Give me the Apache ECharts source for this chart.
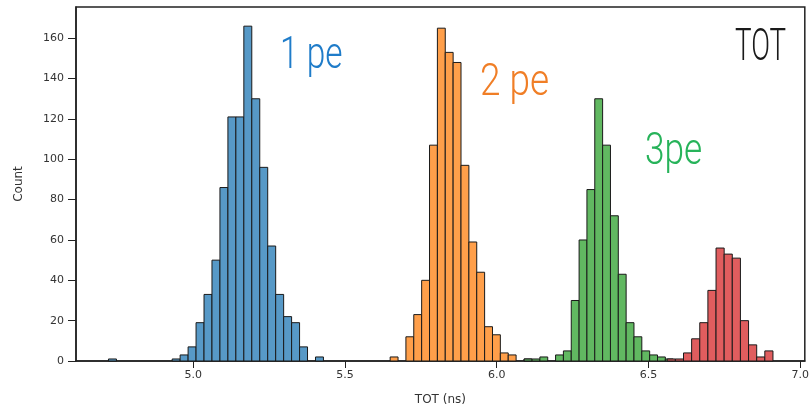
<!DOCTYPE html>
<html>
<head>
<meta charset="utf-8">
<script src="https://cdn.jsdelivr.net/npm/echarts@6/dist/echarts.min.js"></script>
<style>
  html, body { margin: 0; padding: 0; background: #fff; }
  #main { width: 812px; height: 411px; }
</style>
</head>
<body>
<div id="main"></div>
<script>
// histogram data, one group per photo-electron peak
// each group: first bin left edge (ns), bin width (ns), counts per bin
var blueStart = 4.721, blueWidth = 0.02623;
var blueCounts = [1, 0, 0, 0, 0, 0, 0, 0, 1, 3, 7, 19, 33, 50, 86, 121, 121, 166, 130, 96, 57, 33, 22, 19, 7, 0, 2];

var orangeStart = 5.649, orangeWidth = 0.02593;
var orangeCounts = [2, 0, 12, 23, 40, 107, 165, 153, 148, 97, 59, 44, 17, 13, 4, 3, 0, 1];

var greenStart = 6.0906, greenWidth = 0.02583;
var greenCounts = [1, 1, 2, 0, 3, 5, 30, 60, 85, 130, 107, 72, 43, 19, 12, 5, 3, 2, 1];

var redStart = 6.5618, redWidth = 0.02679;
var redCounts = [1, 1, 4, 11, 19, 35, 56, 53, 51, 20, 8, 2, 5];

var xTicks = [5.0, 5.5, 6.0, 6.5, 7.0];
var yTicks = [0, 20, 40, 60, 80, 100, 120, 140, 160];

var chart = echarts.init(document.getElementById('main'));

function toBins(start, width, counts) {
    var rows = [];
    counts.forEach(function(c, i) {
        if (c > 0) {
            rows.push([start + i * width, start + (i + 1) * width, c]);
        }
    });
    return rows;
}

function histSeries(name, rows, color) {
    return {
        name : name,
        type : 'custom',
        data : rows,
        encode : { x : [0, 1], y : 2 },
        renderItem : function(params, api) {
            var p0 = api.coord([api.value(0), 0]);
            var p1 = api.coord([api.value(1), api.value(2)]);
            return {
                type : 'rect',
                shape : {
                    x : p0[0],
                    y : p1[1],
                    width : p1[0] - p0[0],
                    height : p0[1] - p1[1]
                },
                style : {
                    fill : color,
                    stroke : '#1a1a1a',
                    lineWidth : 1
                }
            };
        }
    };
}

var axisFont = {
    fontFamily : 'DejaVu Sans',
    fontSize : 11,
    color : '#333'
};

var option = {
    animation : false,
    backgroundColor : '#fff',
    grid : {
        left : 76,
        top : 7,
        width : 729,
        height : 356,
        show : true,
        borderColor : '#222',
        borderWidth : 1.5
    },
    xAxis : {
        type : 'value',
        min : 4.614,
        max : 7.015,
        name : 'TOT (ns)',
        nameLocation : 'middle',
        nameGap : 33,
        nameTextStyle : {
            fontFamily : 'DejaVu Sans',
            fontSize : 12,
            color : '#333'
        },
        splitLine : { show : false },
        axisLine : { show : true, lineStyle : { color : '#222', width : 1.5 } },
        axisTick : {
            show : true,
            length : 7,
            customValues : xTicks,
            lineStyle : { color : '#222', width : 1 }
        },
        axisLabel : {
            customValues : xTicks,
            margin : 9,
            fontFamily : axisFont.fontFamily,
            fontSize : axisFont.fontSize,
            color : axisFont.color,
            formatter : function(v) { return v.toFixed(1); }
        }
    },
    yAxis : {
        type : 'value',
        min : 0,
        max : 175.5,
        name : 'Count',
        nameLocation : 'middle',
        nameGap : 51,
        nameTextStyle : {
            fontFamily : 'DejaVu Sans',
            fontSize : 12,
            color : '#333'
        },
        splitLine : { show : false },
        axisLine : { show : true, lineStyle : { color : '#222', width : 1.5 } },
        axisTick : {
            show : true,
            length : 8,
            customValues : yTicks,
            lineStyle : { color : '#222', width : 1 }
        },
        axisLabel : {
            customValues : yTicks,
            margin : 12,
            fontFamily : axisFont.fontFamily,
            fontSize : axisFont.fontSize,
            color : axisFont.color
        }
    },
    series : [
        histSeries('1 pe', toBins(blueStart, blueWidth, blueCounts), '#5799c7'),
        histSeries('2 pe', toBins(orangeStart, orangeWidth, orangeCounts), '#ff9f4a'),
        histSeries('3 pe', toBins(greenStart, greenWidth, greenCounts), '#61b861'),
        histSeries('4 pe', toBins(redStart, redWidth, redCounts), '#e05d5e')
    ],
    // hand-placed annotations
    graphic : [{
        type : 'text', x : 280, y : 57, scaleX : 0.76,
        style : { text : '1 pe', font : '300 44px Roboto', fill : '#1f7cc9', verticalAlign : 'middle' }
    }, {
        type : 'text', x : 480, y : 84, scaleX : 0.84,
        style : { text : '2 pe', font : '300 44px Roboto', fill : '#f07e26', verticalAlign : 'middle' }
    }, {
        type : 'text', x : 645, y : 153, scaleX : 0.8,
        style : { text : '3pe', font : '300 44px Roboto', fill : '#27b35a', verticalAlign : 'middle' }
    }, {
        type : 'text', x : 735, y : 49, scaleX : 0.63,
        style : { text : 'TOT', font : '300 44px Roboto', fill : '#1a1a1a', verticalAlign : 'middle' }
    }]
};
chart.setOption(option);
</script>
</body>
</html>
